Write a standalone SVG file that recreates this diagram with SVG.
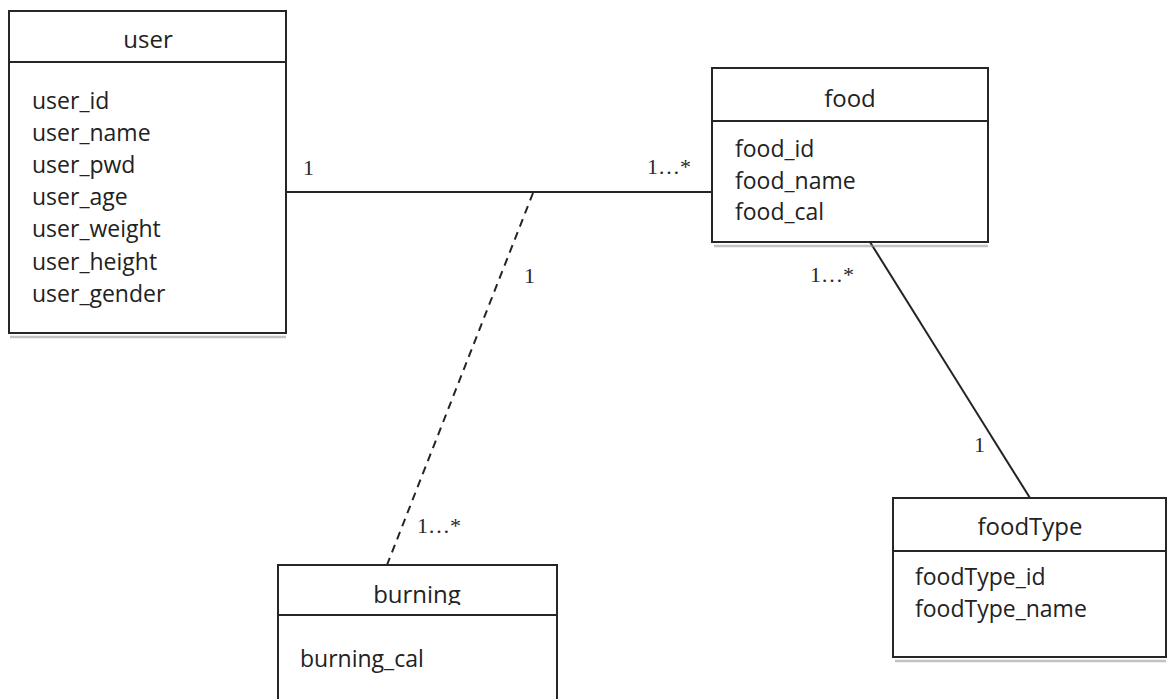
<svg xmlns="http://www.w3.org/2000/svg" width="1169" height="699" viewBox="0 0 1169 699">
  <style>
    .box { fill: #ffffff; stroke: #262626; stroke-width: 2; }
    .shadow { stroke: #9a9a9a; stroke-width: 2.5; opacity: 0.6; }
    .title { font-family: "Open Sans", "Noto Sans", sans-serif; font-size: 24px; fill: #222222; text-anchor: middle; }
    .attr { font-family: "Open Sans", "Noto Sans", sans-serif; font-size: 23px; fill: #222222; }
    .mult { font-family: "Liberation Serif", "Times New Roman", serif; font-size: 22px; fill: #2a2a2a; }
    .link { stroke: #242424; stroke-width: 2; fill: none; }
    .dashed { stroke-dasharray: 8 6; }
  </style>
  <defs>
    <clipPath id="burningHeadClip">
      <rect x="278" y="565" width="279" height="40"/>
    </clipPath>
  </defs>

  <rect width="1169" height="699" fill="#ffffff"/>

  <!-- associations -->
  <g id="connectors">
    <line class="link" x1="287" y1="192" x2="712" y2="192"/>
    <line class="link dashed" x1="533" y1="193" x2="387" y2="565"/>
    <line class="link" x1="870" y1="242" x2="1030" y2="498"/>
    <text class="mult" x="303" y="175">1</text>
    <text class="mult" x="647" y="174">1…*</text>
    <text class="mult" x="524" y="283">1</text>
    <text class="mult" x="417" y="533">1…*</text>
    <text class="mult" x="810" y="282">1…*</text>
    <text class="mult" x="974" y="452">1</text>
  </g>

  <!-- user class -->
  <g id="user">
    <line class="shadow" x1="10" y1="337" x2="286" y2="337"/>
    <line class="shadow" x1="10" y1="66" x2="286" y2="66"/>
    <rect class="box" x="9" y="11" width="277" height="51"/>
    <rect class="box" x="9" y="62" width="277" height="271"/>
    <text class="title" x="148" y="48">user</text>
    <text class="attr" x="32" y="108.5">user_id</text>
    <text class="attr" x="32" y="140.5">user_name</text>
    <text class="attr" x="32" y="172.5">user_pwd</text>
    <text class="attr" x="32" y="204.5">user_age</text>
    <text class="attr" x="32" y="237">user_weight</text>
    <text class="attr" x="32" y="269.5">user_height</text>
    <text class="attr" x="32" y="302">user_gender</text>
  </g>

  <!-- food class -->
  <g id="food">
    <line class="shadow" x1="714" y1="246" x2="988" y2="246"/>
    <line class="shadow" x1="714" y1="125" x2="988" y2="125"/>
    <rect class="box" x="712" y="68" width="276" height="53"/>
    <rect class="box" x="712" y="121" width="276" height="121"/>
    <text class="title" x="850" y="107">food</text>
    <text class="attr" x="735" y="157">food_id</text>
    <text class="attr" x="735" y="188.5">food_name</text>
    <text class="attr" x="735" y="220">food_cal</text>
  </g>

  <!-- foodType class -->
  <g id="foodType">
    <line class="shadow" x1="895" y1="661" x2="1166" y2="661"/>
    <line class="shadow" x1="895" y1="555" x2="1166" y2="555"/>
    <rect class="box" x="893" y="498" width="273" height="53"/>
    <rect class="box" x="893" y="551" width="273" height="106"/>
    <text class="title" x="1030" y="535">foodType</text>
    <text class="attr" x="915" y="585">foodType_id</text>
    <text class="attr" x="915" y="617">foodType_name</text>
  </g>

  <!-- burning class -->
  <g id="burning">
    <line class="shadow" x1="280" y1="619" x2="557" y2="619"/>
    <rect class="box" x="278" y="565" width="279" height="50"/>
    <text class="title" x="417" y="603" clip-path="url(#burningHeadClip)">burning</text>
    <rect class="box" x="278" y="615" width="279" height="100"/>
    <text class="attr" x="300" y="667">burning_cal</text>
  </g>
</svg>
